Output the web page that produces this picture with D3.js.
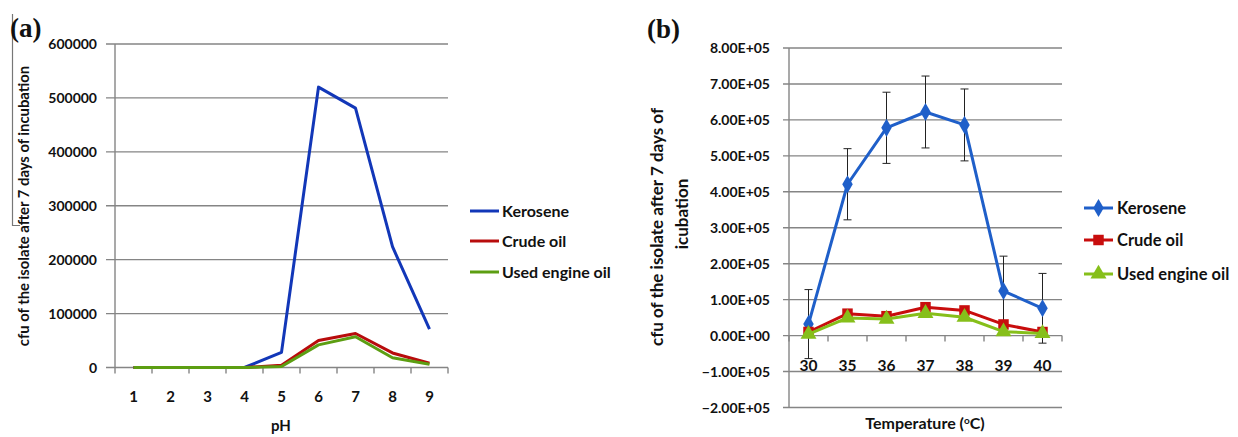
<!DOCTYPE html>
<html>
<head>
<meta charset="utf-8">
<script src="https://cdn.jsdelivr.net/npm/d3@7"></script>
<style>
  body { margin: 0; background: #fff; }
  svg text { font-family: Lato, "Open Sans", sans-serif; font-weight: bold; fill: #111; }
</style>
</head>
<body>
<div id="container"></div>
<script>
// panel (a): cfu vs pH
let phLabels = ['1', '2', '3', '4', '5', '6', '7', '8', '9']
let phKerosene = [0, 0, 0, 0, 28000, 520000, 481000, 224000, 71000]
let phCrude = [0, 0, 0, 0, 4000, 50000, 63000, 27000, 8000]
let phEngine = [0, 0, 0, 0, 2000, 42000, 57000, 18000, 6000]
let phTicks = [0, 100000, 200000, 300000, 400000, 500000, 600000]

// panel (b): cfu vs temperature
let tempLabels = ['30', '35', '36', '37', '38', '39', '40']
let tempKerosene = [32000, 421000, 578000, 622000, 586000, 124000, 76000]
let tempKeroseneErr = [96000, 99000, 99000, 100000, 100000, 97000, 97000]
let tempCrude = [10000, 61000, 54000, 79000, 70000, 31000, 10000]
let tempEngine = [4000, 49000, 46000, 62000, 51000, 11000, 6000]
let tempTicks = [-200000, -100000, 0, 100000, 200000, 300000, 400000, 500000, 600000, 700000, 800000]

let seriesNames = ['Kerosene', 'Crude oil', 'Used engine oil']

let width = 1238,
  height = 437

let svg = d3.select('#container')
  .append('svg')
  .attr('width', width)
  .attr('height', height)

let gridColor = '#858585'

// ---------- panel (a) ----------
let colorsA = ['#1237b8', '#b80c0c', '#5c9e12']

let xA = d3.scaleBand().domain(phLabels).range([115, 448])
let yA = d3.scaleLinear().domain([0, 600000]).range([367.5, 44])

let gA = svg.append('g')

// gridlines
gA.selectAll('line.grid')
  .data(phTicks)
  .enter().append('line')
  .attr('x1', 106).attr('x2', 448)
  .attr('y1', d => yA(d)).attr('y2', d => yA(d))
  .attr('stroke', gridColor).attr('stroke-width', 1.4)

// y axis line
gA.append('line')
  .attr('x1', 115).attr('x2', 115)
  .attr('y1', yA(600000)).attr('y2', yA(0))
  .attr('stroke', gridColor).attr('stroke-width', 1.4)

// y tick labels
gA.selectAll('text.ytick')
  .data(phTicks)
  .enter().append('text')
  .attr('x', 97).attr('y', d => yA(d) + 5)
  .attr('text-anchor', 'end')
  .style('font-size', '14px')
  .text(d => d)

// x axis ticks (at band boundaries)
let bandEdgesA = phLabels.map(d => xA(d)).concat([xA.range()[1]])
gA.selectAll('line.xtick')
  .data(bandEdgesA)
  .enter().append('line')
  .attr('x1', d => d).attr('x2', d => d)
  .attr('y1', yA(0)).attr('y2', yA(0) + 6)
  .attr('stroke', gridColor).attr('stroke-width', 1.4)

gA.selectAll('text.xtick')
  .data(phLabels)
  .enter().append('text')
  .attr('x', d => xA(d) + xA.bandwidth() / 2).attr('y', 402)
  .attr('text-anchor', 'middle')
  .style('font-size', '15px')
  .text(d => d)

gA.append('text')
  .attr('x', 281).attr('y', 431)
  .attr('text-anchor', 'middle')
  .style('font-size', '15px')
  .text('pH')

gA.append('text')
  .attr('transform', 'translate(29,206) rotate(-90)')
  .attr('text-anchor', 'middle')
  .style('font-size', '14.8px')
  .text('cfu of the isolate after 7 days of incubation')

// stray frame line at the left edge
gA.append('line')
  .attr('x1', 12.5).attr('x2', 12.5).attr('y1', 14).attr('y2', 226)
  .attr('stroke', '#777').attr('stroke-width', 1.2)
gA.append('line')
  .attr('x1', 12).attr('x2', 20).attr('y1', 225.5).attr('y2', 225.5)
  .attr('stroke', '#777').attr('stroke-width', 1)

let lineA = d3.line()
  .x((d, i) => xA(phLabels[i]) + xA.bandwidth() / 2)
  .y(d => yA(d))

let dataA = [phKerosene, phCrude, phEngine]
;[0, 1, 2].forEach(k => {
  gA.append('path')
    .datum(dataA[k])
    .attr('d', lineA)
    .attr('fill', 'none')
    .attr('stroke', colorsA[k])
    .attr('stroke-width', 3)
    .attr('stroke-linejoin', 'round')
})

// legend (a)
let legendYA = [211, 241, 272]
seriesNames.forEach((name, k) => {
  gA.append('line')
    .attr('x1', 470).attr('x2', 499)
    .attr('y1', legendYA[k]).attr('y2', legendYA[k])
    .attr('stroke', colorsA[k]).attr('stroke-width', 3)
  gA.append('text')
    .attr('x', 502).attr('y', legendYA[k] + 5.5)
    .style('font-size', '16px')
    .text(name)
})

gA.append('text')
  .attr('x', 10).attr('y', 37)
  .style('font-family', '"Liberation Serif", "DejaVu Serif", serif')
  .style('font-size', '27px')
  .text('(a)')

// ---------- panel (b) ----------
let colorsB = ['#1f5fc9', '#c80d0d', '#86bf1a']

let xB = d3.scaleBand().domain(tempLabels).range([789, 1062])
let yB = d3.scaleLinear().domain([-200000, 800000]).range([407.5, 48])

let gB = svg.append('g')

gB.selectAll('line.grid')
  .data(tempTicks)
  .enter().append('line')
  .attr('x1', 783).attr('x2', 1062)
  .attr('y1', d => yB(d)).attr('y2', d => yB(d))
  .attr('stroke', gridColor).attr('stroke-width', 1.4)

gB.append('line')
  .attr('x1', 789).attr('x2', 789)
  .attr('y1', yB(800000)).attr('y2', yB(-200000))
  .attr('stroke', gridColor).attr('stroke-width', 1.4)

let fmtE = d => {
  let s = d3.format('.2e')(d)
  let parts = s.split('e')
  let exp = parseInt(parts[1])
  return parts[0].toUpperCase() + 'E' + (exp < 0 ? '-' : '+') + String(Math.abs(exp)).padStart(2, '0')
}

gB.selectAll('text.ytick')
  .data(tempTicks)
  .enter().append('text')
  .attr('x', 770).attr('y', d => yB(d) + 5)
  .attr('text-anchor', 'end')
  .style('font-size', '14px')
  .text(fmtE)

let bandEdgesB = tempLabels.map(d => xB(d)).concat([xB.range()[1]])
gB.selectAll('line.xtick')
  .data(bandEdgesB)
  .enter().append('line')
  .attr('x1', d => d).attr('x2', d => d)
  .attr('y1', yB(0)).attr('y2', yB(0) + 6)
  .attr('stroke', gridColor).attr('stroke-width', 1.4)

gB.selectAll('text.xtick')
  .data(tempLabels)
  .enter().append('text')
  .attr('x', d => xB(d) + xB.bandwidth() / 2).attr('y', 371)
  .attr('text-anchor', 'middle')
  .style('font-size', '15.5px')
  .text(d => d)

let xTitle = gB.append('text')
  .attr('x', 925).attr('y', 429)
  .attr('text-anchor', 'middle')
  .style('font-size', '16px')
xTitle.append('tspan').text('Temperature (')
xTitle.append('tspan').attr('dy', -5).style('font-size', '10px').text('o')
xTitle.append('tspan').attr('dy', 5).text('C)')

let yTitle = gB.append('text')
  .attr('transform', 'rotate(-90)')
  .attr('text-anchor', 'middle')
  .style('font-size', '17px')
yTitle.append('tspan').attr('x', -227).attr('y', 663).text('cfu of the isolate after 7 days of')
yTitle.append('tspan').attr('x', -214).attr('y', 688).text('icubation')

let cx = i => xB(tempLabels[i]) + xB.bandwidth() / 2

// error bars (kerosene)
tempKerosene.forEach((v, i) => {
  let e = tempKeroseneErr[i]
  gB.append('line')
    .attr('x1', cx(i)).attr('x2', cx(i))
    .attr('y1', yB(v + e)).attr('y2', yB(v - e))
    .attr('stroke', '#222').attr('stroke-width', 1)
  ;[v + e, v - e].forEach(t => {
    gB.append('line')
      .attr('x1', cx(i) - 4).attr('x2', cx(i) + 4)
      .attr('y1', yB(t)).attr('y2', yB(t))
      .attr('stroke', '#222').attr('stroke-width', 1)
  })
})

let lineB = d3.line()
  .x((d, i) => cx(i))
  .y(d => yB(d))

let dataB = [tempKerosene, tempCrude, tempEngine]
let symbols = [d3.symbolDiamond, d3.symbolSquare, d3.symbolTriangle]
let symSizes = [95, 110, 110]

;[0, 1, 2].forEach(k => {
  gB.append('path')
    .datum(dataB[k])
    .attr('d', lineB)
    .attr('fill', 'none')
    .attr('stroke', colorsB[k])
    .attr('stroke-width', 3)
    .attr('stroke-linejoin', 'round')
  gB.selectAll('path.m' + k)
    .data(dataB[k])
    .enter().append('path')
    .attr('transform', (d, i) => `translate(${cx(i)},${yB(d)})`)
    .attr('d', d3.symbol().type(symbols[k]).size(symSizes[k]))
    .attr('fill', colorsB[k])
})

// legend (b)
let legendYB = [208, 240, 274]
seriesNames.forEach((name, k) => {
  gB.append('line')
    .attr('x1', 1084).attr('x2', 1113)
    .attr('y1', legendYB[k]).attr('y2', legendYB[k])
    .attr('stroke', colorsB[k]).attr('stroke-width', 3)
  gB.append('path')
    .attr('transform', `translate(1098.5,${legendYB[k]})`)
    .attr('d', d3.symbol().type(symbols[k]).size(symSizes[k]))
    .attr('fill', colorsB[k])
  gB.append('text')
    .attr('x', 1117).attr('y', legendYB[k] + 5.5)
    .style('font-size', '16.5px')
    .text(name)
})

gB.append('text')
  .attr('x', 647).attr('y', 38)
  .style('font-family', '"Liberation Serif", "DejaVu Serif", serif')
  .style('font-size', '27px')
  .text('(b)')
</script>
</body>
</html>
